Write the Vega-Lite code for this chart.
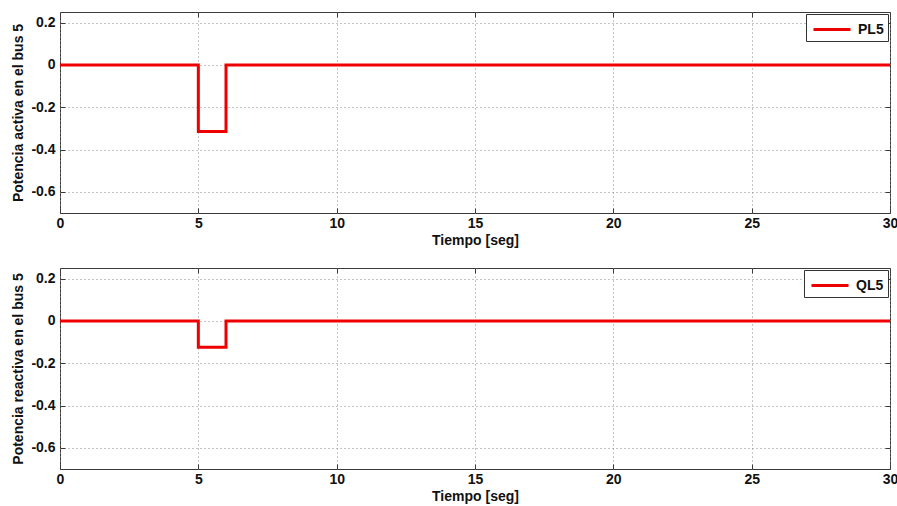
{
  "$schema": "https://vega.github.io/schema/vega-lite/v6.json",
  "padding": {"left": 11, "top": 11, "right": 7, "bottom": 5},
  "background": "white",
  "spacing": 55,
  "bounds": "flush",
  "config": {
    "font": "Liberation Sans",
    "view": {"stroke": "#3a3a3a", "strokeWidth": 1},
    "axis": {
      "labelFont": "Liberation Sans",
      "labelFontSize": 14,
      "labelFontWeight": "bold",
      "labelColor": "#111",
      "labelFlush": false,
      "titleFont": "Liberation Sans",
      "titleFontSize": 14,
      "titleFontWeight": "bold",
      "titleColor": "#111",
      "domain": false,
      "tickColor": "#3a3a3a",
      "tickSize": -5,
      "gridColor": "#8a8a8a",
      "gridDash": [1, 3],
      "gridWidth": 1,
      "gridOpacity": 1
    },
    "legend": {
      "orient": "top-right",
      "offset": 2,
      "strokeColor": "#333",
      "fillColor": "white",
      "padding": 4,
      "title": null,
      "labelFont": "Liberation Sans",
      "labelFontSize": 14,
      "labelFontWeight": "bold",
      "labelColor": "#111",
      "labelOffset": 25,
      "symbolType": "M-0.8,0H2.9",
      "symbolSize": 400,
      "symbolStrokeWidth": 3
    }
  },
  "datasets": {
    "p": [
      {"t": 0, "v": 0, "s": "PL5"},
      {"t": 5, "v": -0.315, "s": "PL5"},
      {"t": 6, "v": 0, "s": "PL5"},
      {"t": 30, "v": 0, "s": "PL5"}
    ],
    "q": [
      {"t": 0, "v": 0, "s": "QL5"},
      {"t": 5, "v": -0.125, "s": "QL5"},
      {"t": 6, "v": 0, "s": "QL5"},
      {"t": 30, "v": 0, "s": "QL5"}
    ]
  },
  "vconcat": [
    {
      "width": 830,
      "height": 201,
      "data": {"name": "p"},
      "layer": [
        {
          "mark": {"type": "line", "interpolate": "step-after", "strokeWidth": 3, "clip": true},
          "encoding": {
            "x": {"field": "t", "type": "quantitative", "scale": {"domain": [0, 30], "nice": false},
              "axis": {"title": "Tiempo [seg]", "values": [0, 5, 10, 15, 20, 25, 30], "labelPadding": 8, "titlePadding": 3, "grid": true}},
            "y": {"field": "v", "type": "quantitative", "scale": {"domain": [-0.7, 0.25], "nice": false, "zero": false},
              "axis": {"title": "Potencia activa en el bus 5", "values": [-0.6, -0.4, -0.2, 0, 0.2], "labelExpr": "datum.value == 0 ? '0' : replace(format(datum.value, '.1f'), '−', '-')", "labelPadding": 10, "titlePadding": 5, "grid": true}},
            "color": {"field": "s", "type": "nominal", "scale": {"range": ["#ee0000"]}}
          }
        },
        {
          "mark": {"type": "line", "opacity": 0},
          "encoding": {
            "x": {"field": "t", "type": "quantitative", "axis": {"orient": "top", "labels": false, "grid": false, "title": null, "values": [0, 5, 10, 15, 20, 25, 30]}},
            "y": {"field": "v", "type": "quantitative", "axis": {"orient": "right", "labels": false, "grid": false, "title": null, "values": [-0.6, -0.4, -0.2, 0, 0.2]}}
          }
        }
      ],
      "resolve": {"axis": {"x": "independent", "y": "independent"}}
    },
    {
      "width": 830,
      "height": 201,
      "data": {"name": "q"},
      "layer": [
        {
          "mark": {"type": "line", "interpolate": "step-after", "strokeWidth": 3, "clip": true},
          "encoding": {
            "x": {"field": "t", "type": "quantitative", "scale": {"domain": [0, 30], "nice": false},
              "axis": {"title": "Tiempo [seg]", "values": [0, 5, 10, 15, 20, 25, 30], "labelPadding": 8, "titlePadding": 3, "grid": true}},
            "y": {"field": "v", "type": "quantitative", "scale": {"domain": [-0.7, 0.25], "nice": false, "zero": false},
              "axis": {"title": "Potencia reactiva en el bus 5", "values": [-0.6, -0.4, -0.2, 0, 0.2], "labelExpr": "datum.value == 0 ? '0' : replace(format(datum.value, '.1f'), '−', '-')", "labelPadding": 10, "titlePadding": 5, "grid": true}},
            "color": {"field": "s", "type": "nominal", "scale": {"range": ["#ee0000"]}}
          }
        },
        {
          "mark": {"type": "line", "opacity": 0},
          "encoding": {
            "x": {"field": "t", "type": "quantitative", "axis": {"orient": "top", "labels": false, "grid": false, "title": null, "values": [0, 5, 10, 15, 20, 25, 30]}},
            "y": {"field": "v", "type": "quantitative", "axis": {"orient": "right", "labels": false, "grid": false, "title": null, "values": [-0.6, -0.4, -0.2, 0, 0.2]}}
          }
        }
      ],
      "resolve": {"axis": {"x": "independent", "y": "independent"}}
    }
  ],
  "resolve": {"scale": {"color": "independent"}, "legend": {"color": "independent"}}
}
